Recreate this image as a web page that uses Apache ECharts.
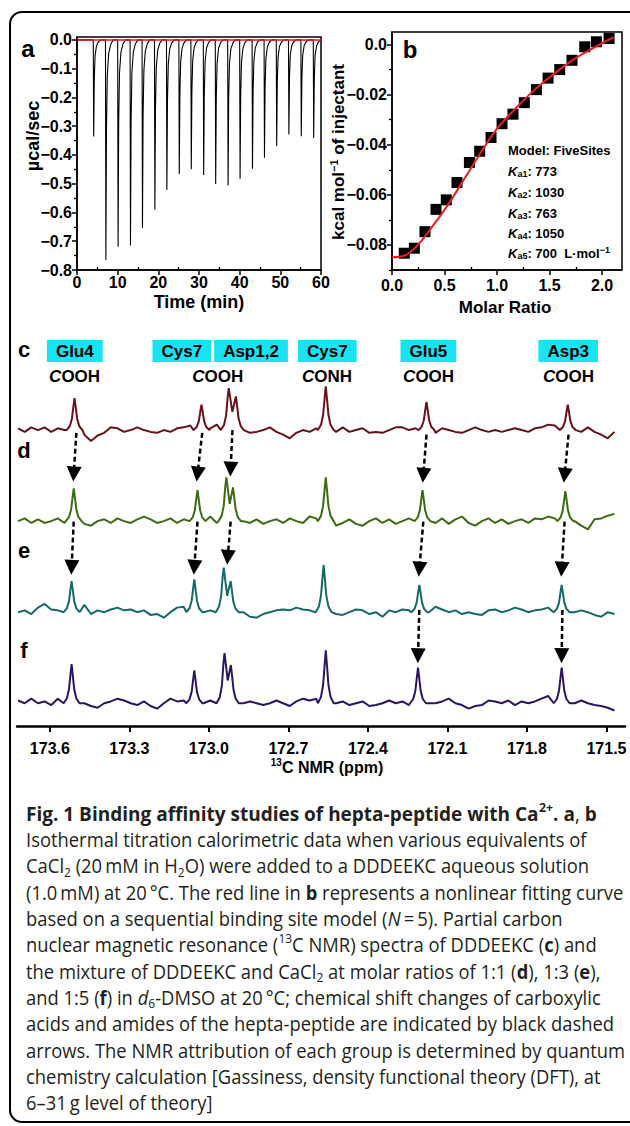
<!DOCTYPE html>
<html>
<head>
<meta charset="utf-8">
<title>Fig. 1 Binding affinity studies of hepta-peptide with Ca2+</title>
<script src="https://cdn.jsdelivr.net/npm/echarts@6.0.0/dist/echarts.min.js"></script>
<style>
html,body{margin:0;padding:0;background:#fff;}
#chart{width:630px;height:1126px;}
</style>
</head>
<body>
<div id="chart"></div>
<script>
// ================= DATA =================
// (a) ITC raw thermogram: injection times (min) and peak minima (µcal/sec)
const itcInjectionTime = [4.1, 7.1, 10.1, 13.15, 16.1, 19.15, 22.1, 25.15, 28.1, 31.15, 34.1, 37.15, 40.1, 43.15, 46.1, 49.1, 52.1, 55.15, 58.2];
const itcPeakDepth = [-0.336, -0.765, -0.719, -0.715, -0.654, -0.590, -0.522, -0.466, -0.450, -0.470, -0.501, -0.506, -0.483, -0.448, -0.410, -0.369, -0.329, -0.335, -0.341];
// shape of one injection spike (time offset from tip, fraction of depth)
const itcSpikeOffset = [-0.1, 0, 0.15, 0.35, 0.7, 1.2, 1.8];
const itcSpikeFraction = [0, 1, 0.4, 0.16, 0.06, 0.02, 0];
const itcBaseline = 0;
const timeTicks = [0, 10, 20, 30, 40, 50, 60];
const timeMinorTicks = [5, 15, 25, 35, 45, 55];
const ucalTicks = [0, -0.1, -0.2, -0.3, -0.4, -0.5, -0.6, -0.7, -0.8];
const ucalMinorTicks = [-0.05, -0.15, -0.25, -0.35, -0.45, -0.55, -0.65, -0.75];

// (b) integrated heats and fitted curve
const molarRatio = [0.117, 0.213, 0.314, 0.419, 0.517, 0.619, 0.737, 0.835, 0.943, 1.048, 1.152, 1.26, 1.375, 1.486, 1.597, 1.714, 1.835, 1.946, 2.067];
const heatPerMol = [-0.0833, -0.0813, -0.0747, -0.0658, -0.0620, -0.0551, -0.0471, -0.0426, -0.0371, -0.0316, -0.0278, -0.0232, -0.0180, -0.0134, -0.0100, -0.0063, -0.0009, 0.0011, 0.0024];
const fitRatio = [0, 0.12, 0.238, 0.365, 0.524, 0.683, 0.841, 1.0, 1.159, 1.349, 1.54, 1.73, 1.92, 2.11];
const fitHeat = [-0.0849, -0.0842, -0.0803, -0.0737, -0.0645, -0.054, -0.0434, -0.0336, -0.0263, -0.0184, -0.0118, -0.0059, -0.0013, 0.0029];
const ratioTicks = [0, 0.5, 1, 1.5, 2];
const ratioMinorTicks = [0.25, 0.75, 1.25, 1.75];
const heatTicks = [0, -0.02, -0.04, -0.06, -0.08];
const heatMinorTicks = [-0.01, -0.03, -0.05, -0.07, -0.09];
const fitModel = 'FiveSites';
const fitKaNames = ['a1', 'a2', 'a3', 'a4', 'a5'];
const fitKaValues = ['773', '1030', '763', '1050', '700'];

// (c-f) 13C NMR spectra (ppm, intensity a.u.)
const spectrumNames = ['c', 'd', 'e', 'f'];
const spectrumOffset = [300, 200, 100, 0];
const groupLabels = ['Glu4', 'Cys7', 'Asp1,2', 'Cys7', 'Glu5', 'Asp3'];
const groupTypes = ['COOH', 'COOH', 'CONH', 'COOH', 'COOH'];
// peaks: Glu4, Cys7 COOH, Asp1, Asp2, Cys7 CONH, Glu5, Asp3
const peakPpmC = [173.507, 173.028, 172.925, 172.898, 172.559, 172.179, 171.646];
const peakHeightC = [35, 28, 46, 37, 48, 31, 28];
const peakPpmD = [173.510, 173.043, 172.934, 172.909, 172.559, 172.194, 171.655];
const peakHeightD = [36, 34, 48, 37, 48, 34, 33];
const peakPpmE = [173.518, 173.055, 172.944, 172.918, 172.567, 172.206, 171.669];
const peakHeightE = [34, 36, 49, 34, 52, 30, 30];
const peakPpmF = [173.518, 173.055, 172.941, 172.917, 172.559, 172.211, 171.669];
const peakHeightF = [43, 36, 55, 42, 58, 39, 39];
const doubletDip = [20, 19, 18, 25];
// baseline noise sampled every 0.025 ppm from 173.72 ppm
const noiseStartPpm = 173.72;
const noiseStepPpm = 0.025;
const noiseC = [2,-2,3,0,3,-2,2,0,0,0, -5,-12,-6,-3,3,2,-2,0,3,0, -2,-3,0,-2,2,3,5,0,0,2, 6,0,0,0,0,-3,-2,0,3,-2, -5,-9,-3,0,-2,2,0,0,-2,3, -2,0,2,-3,-2,-3,0,3,3,0, 2,0,0,-3,2,0,-2,-3,0,3, 0,-2,0,-2,0,2,0,-2,2,3, 6,5,0,0,0,-2,3,-2,-5,-9, -2];
const noiseD = [0,3,-2,2,-2,0,3,-2,0,0, -3,-5,0,2,-2,3,0,-2,2,5, 2,-2,0,3,-2,2,3,0,0,5, -2,0,0,0,0,-2,2,-3,0,2, -2,3,0,-2,5,3,0,0,-5,-2, 2,-3,-5,0,3,-2,2,-3,0,3, 0,0,0,-2,3,-3,2,5,-2,-5, 0,3,-2,2,-3,0,2,-2,3,2, 5,3,0,0,0,-5,-9,2,3,6, 8];
const noiseE = [0,2,-2,5,9,3,2,5,0,0, 8,-2,2,0,3,5,2,3,0,2, -3,-2,-6,0,5,6,3,0,0,2, 5,0,0,0,0,-5,-6,-2,0,2, 3,2,5,3,2,0,0,0,-2,-3, 0,3,2,-2,0,-5,2,0,3,2, 0,0,0,6,3,0,2,-2,0,-2, -3,2,3,0,2,5,3,0,2,3, 5,3,0,0,0,2,0,-3,-5,0, -2];
const noiseF = [3,0,5,0,2,-2,5,3,0,0, 0,-3,-5,0,2,5,3,0,-2,2, -3,-6,0,5,2,3,6,0,0,3, 5,0,0,0,0,2,0,-2,0,3, 0,-3,2,5,3,5,0,0,0,2, -2,0,2,-3,-2,0,3,0,2,-2, -3,0,0,0,2,5,0,-2,-6,-3, -2,3,2,0,3,-2,2,0,2,5, 8,5,0,0,0,3,0,-2,-3,-5, -8];
// peak line shape (ppm offset, fraction of height)
const peakShapeDelta = [0.03, 0.018, 0.01, 0.004, 0, -0.004, -0.01, -0.018, -0.03];
const peakShapeFrac = [0, 0.12, 0.35, 0.75, 1, 0.75, 0.35, 0.12, 0];
const nmrTicks = [173.6, 173.3, 173.0, 172.7, 172.4, 172.1, 171.8, 171.5];
// dashed arrows: start (ppm, level) -> tip (ppm, level)
const arrowFromPpm = [173.500, 173.025, 172.911, 172.179, 171.643, 173.510, 173.043, 172.918, 172.191, 171.658, 172.206, 171.666];
const arrowFromLevel = [297, 297, 300, 295, 295, 199.5, 199.5, 199.5, 199.5, 199.5, 102.5, 102.5];
const arrowTipPpm = [173.510, 173.043, 172.918, 172.191, 171.658, 173.518, 173.055, 172.929, 172.206, 171.669, 172.211, 171.669];
const arrowTipLevel = [243.5, 243.5, 249, 242, 242, 141, 141, 152, 139, 139, 44, 44];

// ================= BUILD =================
const FONT = '"Liberation Sans", Arial, sans-serif';
const CAP = '"Open Sans", "Noto Sans", sans-serif';

const itcTrace = [[timeTicks[0], itcBaseline]];
itcInjectionTime.forEach((t, k) => {
  itcSpikeOffset.forEach((o, j) => itcTrace.push([t + o, itcBaseline + itcPeakDepth[k] * itcSpikeFraction[j]]));
});
itcTrace.push([timeTicks[timeTicks.length - 1], itcBaseline]);
const itcBaseLine = [[timeTicks[0], itcBaseline], [timeTicks[timeTicks.length - 1], itcBaseline]];

const heatPoints = molarRatio.map((x, i) => [x, heatPerMol[i]]);
const fitPoints = fitRatio.map((x, i) => [x, fitHeat[i]]);

function buildSpectrum(noise, ppm, h, dip, offset) {
  const singles = [0, 1, 4, 5, 6];
  const a = ppm[2], b = ppm[3];
  const pts = [];
  noise.forEach((n, i) => {
    const p = +(noiseStartPpm - noiseStepPpm * i).toFixed(3);
    if (singles.some(k => Math.abs(p - ppm[k]) < 0.03)) return;
    if (p < a + 0.03 && p > b - 0.03) return;
    pts.push([p, offset + n]);
  });
  singles.forEach(k => {
    peakShapeDelta.forEach((d, j) => pts.push([ppm[k] + d, offset + peakShapeFrac[j] * h[k]]));
  });
  [[0.03, 0], [0.018, 0.12], [0.01, 0.35], [0.004, 0.8], [0, 1]].forEach(([d, f]) => pts.push([a + d, offset + f * h[2]]));
  pts.push([(a + b) / 2, offset + dip]);
  [[0, 1], [-0.004, 0.75], [-0.01, 0.35], [-0.018, 0.12], [-0.03, 0]].forEach(([d, f]) => pts.push([b + d, offset + f * h[3]]));
  pts.sort((u, v) => v[0] - u[0]);
  return pts;
}
const spectra = [
  buildSpectrum(noiseC, peakPpmC, peakHeightC, doubletDip[0], spectrumOffset[0]),
  buildSpectrum(noiseD, peakPpmD, peakHeightD, doubletDip[1], spectrumOffset[1]),
  buildSpectrum(noiseE, peakPpmE, peakHeightE, doubletDip[2], spectrumOffset[2]),
  buildSpectrum(noiseF, peakPpmF, peakHeightF, doubletDip[3], spectrumOffset[3])
];
const spectrumColors = ['#6a1118', '#3e6a12', '#176969', '#2c1563'];

// NMR grid geometry
const NMR_MIN_Y = -25, NMR_MAX_Y = 355, NMR_H = 346;
const pxPerAu = NMR_H / (NMR_MAX_Y - NMR_MIN_Y);
const HEAD = 15;
const arrowData = arrowFromPpm.map((p, i) => ({
  coords: [[p, arrowFromLevel[i]], [arrowTipPpm[i], arrowTipLevel[i] + (HEAD / 2) / pxPerAu]]
}));

// ================= CAPTION SCALING =================
const mctx = document.createElement('canvas').getContext('2d');
function measure(text, font) { mctx.font = font; return mctx.measureText(text).width; }
const regScale = 560.7 / measure('Isothermal titration calorimetric data when various equivalents of', '20px ' + CAP);
const boldScale = 579 / measure('Fig. 1 Binding affinity studies of hepta-peptide with Ca2+. a, b', 'bold 20px ' + CAP);

const captionLines = [
  '{b|Fig. 1 Binding affinity studies of hepta-peptide with Ca}{bsup|2+}{b|. a}, {b|b}',
  'Isothermal titration calorimetric data when various equivalents of',
  'CaCl{sub|2} (20\u2009mM in H{sub|2}O) were added to a DDDEEKC aqueous solution',
  '(1.0\u2009mM) at 20\u2009°C. The red line in {b|b} represents a nonlinear fitting curve',
  'based on a sequential binding site model ({i|N}\u2009=\u20095). Partial carbon',
  'nuclear magnetic resonance ({sup|13}C NMR) spectra of DDDEEKC ({b|c}) and',
  'the mixture of DDDEEKC and CaCl{sub|2} at molar ratios of 1:1 ({b|d}), 1:3 ({b|e}),',
  'and 1:5 ({b|f}) in {i|d}{sub|6}-DMSO at 20\u2009°C; chemical shift changes of carboxylic',
  'acids and amides of the hepta-peptide are indicated by black dashed',
  'arrows. The NMR attribution of each group is determined by quantum',
  'chemistry calculation [Gassiness, density functional theory (DFT), at',
  '6\u201331\u2009g level of theory]'
];
const capRich = {
  b: { font: 'bold 20px ' + CAP, lineHeight: 26 },
  i: { font: 'italic 20px ' + CAP, lineHeight: 26 },
  sub: { font: '13px ' + CAP, lineHeight: 12, verticalAlign: 'bottom' },
  sup: { font: '13px ' + CAP, lineHeight: 12, verticalAlign: 'top' },
  bsup: { font: 'bold 13px ' + CAP, lineHeight: 12, verticalAlign: 'top' }
};

function txt(x, y, text, font, opts) {
  opts = opts || {};
  const align = opts.align || 'center';
  const valign = opts.valign || 'middle';
  return {
    type: 'text', x: x, y: y,
    rotation: opts.rotation || 0,
    scaleX: opts.scaleX || 1,
    silent: true,
    style: Object.assign({
      text: text, font: font, fill: opts.fill || '#000',
      textAlign: align, textVerticalAlign: valign, align: align, verticalAlign: valign,
      lineHeight: opts.lineHeight || undefined,
      rich: opts.rich || undefined
    }, opts.extra || {})
  };
}

const graphics = [];
// outer rounded frame
graphics.push({ type: 'rect', silent: true, shape: { x: 10, y: 12, width: 700, height: 1110, r: 12 }, style: { fill: 'none', stroke: '#000', lineWidth: 2 } });
// panel letters
graphics.push(txt(28, 48, 'a', 'bold 24px ' + FONT));
graphics.push(txt(410, 49, 'b', 'bold 24px ' + FONT));
// axis titles
graphics.push(txt(33, 136, '\u00b5cal/sec', 'bold 18px ' + FONT, { rotation: Math.PI / 2 }));
graphics.push(txt(199, 302, 'Time (min)', 'bold 18px ' + FONT));
graphics.push(txt(338, 152, 'kcal mol{p|\u22121} of injectant', 'bold 17px ' + FONT, {
  rotation: Math.PI / 2, lineHeight: 20,
  rich: { p: { font: 'bold 11px ' + FONT, lineHeight: 11, verticalAlign: 'top' } }
}));
graphics.push(txt(505, 307, 'Molar Ratio', 'bold 17px ' + FONT));
graphics.push(txt(327, 767, '{p|13}C NMR (ppm)', 'bold 16px ' + FONT, {
  lineHeight: 20, rich: { p: { font: 'bold 10px ' + FONT, lineHeight: 10, verticalAlign: 'top' } }
}));
// fit results in (b)
const fitY = [150, 171, 192, 213, 233, 253];
graphics.push(txt(508, fitY[0], 'Model: ' + fitModel, 'bold 13px ' + FONT, { align: 'left' }));
fitKaNames.forEach((n, k) => {
  const unit = k === fitKaNames.length - 1 ? '  L\u00b7mol{p|\u22121}' : '';
  graphics.push(txt(508, fitY[k + 1], '{k|K}{s|' + n + '}: ' + fitKaValues[k] + unit, 'bold 13px ' + FONT, {
    align: 'left', lineHeight: 15,
    rich: {
      k: { font: 'italic bold 13px ' + FONT, lineHeight: 15 },
      s: { font: 'bold 9px ' + FONT, lineHeight: 11, verticalAlign: 'bottom' },
      p: { font: 'bold 9px ' + FONT, lineHeight: 9, verticalAlign: 'top' }
    }
  }));
});
// spectrum letters
const letterY = [349, 450, 550, 650];
spectrumNames.forEach((s, i) => graphics.push(txt(24, letterY[i], s, 'bold 22px ' + FONT)));
// group labels (cyan boxes)
const groupX = [74.8, 181.8, 251, 327.3, 428.4, 568.2];
groupLabels.forEach((g, i) => graphics.push(txt(groupX[i], 351, g, 'bold 17px ' + FONT, {
  lineHeight: 18, extra: { backgroundColor: '#17e3f3', padding: [2, 9] }
})));
const typeX = [74.6, 217.7, 327, 428.6, 568.5];
groupTypes.forEach((t, i) => graphics.push(txt(typeX[i], 376, '{c|C}' + t.slice(1), 'bold 17px ' + FONT, {
  rich: { c: { font: 'italic bold 17px ' + FONT } }
})));
// caption
captionLines.forEach((line, i) => {
  graphics.push(txt(26, 813 + 26.3 * i, line, '20px ' + CAP, {
    align: 'left', fill: '#231f20', lineHeight: 26, rich: capRich,
    scaleX: i === 0 ? boldScale : regScale
  }));
});

// ================= OPTION =================
const axisLabelStyle = { color: '#000', fontFamily: FONT, fontWeight: 'bold', fontSize: 16 };
function minorAxis(base) {
  return Object.assign({
    type: 'value', axisLine: { show: false, onZero: false }, axisLabel: { show: false }, splitLine: { show: false }
  }, base);
}
const option = {
  animation: false,
  backgroundColor: '#fff',
  grid: [
    { left: 77, top: 37, width: 244, height: 233, show: true, borderColor: '#000', borderWidth: 1.5, backgroundColor: 'transparent' },
    { left: 392, top: 32, width: 230, height: 238, show: true, borderColor: '#000', borderWidth: 1.5, backgroundColor: 'transparent' },
    { left: 17, top: 380, width: 608, height: NMR_H }
  ],
  xAxis: [
    { gridIndex: 0, type: 'value', min: 0, max: 60, position: 'bottom',
      axisLine: { onZero: false, lineStyle: { color: '#000', width: 1.5 } },
      axisTick: { customValues: timeTicks, length: 5, lineStyle: { color: '#000', width: 1.5 } },
      axisLabel: Object.assign({ customValues: timeTicks, margin: 4 }, axisLabelStyle),
      splitLine: { show: false } },
    minorAxis({ gridIndex: 0, min: 0, max: 60, position: 'bottom',
      axisTick: { customValues: timeMinorTicks, length: 3, inside: true, lineStyle: { color: '#000', width: 1.3 } } }),
    { gridIndex: 1, type: 'value', min: 0, max: 2.19, position: 'bottom',
      axisLine: { onZero: false, lineStyle: { color: '#000', width: 1.5 } },
      axisTick: { customValues: ratioTicks, length: 5, lineStyle: { color: '#000', width: 1.5 } },
      axisLabel: Object.assign({ customValues: ratioTicks, margin: 7, formatter: v => v.toFixed(1) }, axisLabelStyle),
      splitLine: { show: false } },
    minorAxis({ gridIndex: 1, min: 0, max: 2.19, position: 'bottom',
      axisTick: { customValues: ratioMinorTicks, length: 3, inside: true, lineStyle: { color: '#000', width: 1.3 } } }),
    { gridIndex: 2, type: 'value', min: 171.43, max: 173.724, inverse: true, position: 'bottom',
      axisLine: { onZero: false, lineStyle: { color: '#000', width: 2.5 } },
      axisTick: { customValues: nmrTicks, length: 6, lineStyle: { color: '#000', width: 2 } },
      axisLabel: Object.assign({ customValues: nmrTicks, margin: 14, formatter: v => v.toFixed(1) }, axisLabelStyle),
      splitLine: { show: false } }
  ],
  yAxis: [
    { gridIndex: 0, type: 'value', min: -0.8, max: 0.01, position: 'left',
      axisLine: { onZero: false, lineStyle: { color: '#000', width: 1.5 } },
      axisTick: { customValues: ucalTicks, length: 5, lineStyle: { color: '#000', width: 1.5 } },
      axisLabel: Object.assign({ customValues: ucalTicks, margin: 5,
        formatter: v => Math.abs(v) < 1e-9 ? '0.0' : '\u2212' + Math.abs(v).toFixed(1) }, axisLabelStyle),
      splitLine: { show: false } },
    minorAxis({ gridIndex: 0, min: -0.8, max: 0.01, position: 'left',
      axisTick: { customValues: ucalMinorTicks, length: 3, lineStyle: { color: '#000', width: 1.3 } } }),
    { gridIndex: 1, type: 'value', min: -0.09, max: 0.005, position: 'left',
      axisLine: { onZero: false, lineStyle: { color: '#000', width: 1.5 } },
      axisTick: { customValues: heatTicks, length: 5, lineStyle: { color: '#000', width: 1.5 } },
      axisLabel: Object.assign({ customValues: heatTicks, margin: 5,
        formatter: v => Math.abs(v) < 1e-9 ? '0.0' : '\u2212' + Math.abs(v).toFixed(2) }, axisLabelStyle),
      splitLine: { show: false } },
    minorAxis({ gridIndex: 1, min: -0.09, max: 0.005, position: 'left',
      axisTick: { customValues: heatMinorTicks, length: 3, lineStyle: { color: '#000', width: 1.3 } } }),
    { gridIndex: 2, type: 'value', min: NMR_MIN_Y, max: NMR_MAX_Y, show: false, splitLine: { show: false } }
  ],
  series: [
    { name: 'ITC', type: 'line', xAxisIndex: 0, yAxisIndex: 0, data: itcTrace, symbol: 'none',
      lineStyle: { color: '#000', width: 1.1 }, z: 2 },
    { name: 'ITC baseline', type: 'line', xAxisIndex: 0, yAxisIndex: 0, data: itcBaseLine, symbol: 'none',
      lineStyle: { color: '#e8141b', width: 1.5 }, z: 3 },
    { name: 'Heat', type: 'scatter', xAxisIndex: 2, yAxisIndex: 2, data: heatPoints, symbol: 'rect', symbolSize: 11,
      itemStyle: { color: '#000', opacity: 1 }, z: 2 },
    { name: 'Fit', type: 'line', xAxisIndex: 2, yAxisIndex: 2, data: fitPoints, symbol: 'none', smooth: 0.4,
      lineStyle: { color: '#ee1c25', width: 2 }, z: 3 }
  ].concat(spectra.map((d, i) => ({
    name: 'NMR ' + spectrumNames[i], type: 'line', xAxisIndex: 4, yAxisIndex: 4, data: d, symbol: 'none',
    lineStyle: { color: spectrumColors[i], width: 2 }, z: 2
  }))).concat([
    { name: 'Shift arrows', type: 'lines', coordinateSystem: 'cartesian2d', xAxisIndex: 4, yAxisIndex: 4,
      data: arrowData, symbol: ['none', 'triangle'], symbolSize: HEAD,
      lineStyle: { color: '#000', width: 2.5, type: [5, 3], opacity: 1, curveness: 0 },
      itemStyle: { color: '#000' }, z: 5, silent: true }
  ]),
  graphic: { elements: graphics }
};

const chart = echarts.init(document.getElementById('chart'), null, { renderer: 'svg', width: 630, height: 1126 });
chart.setOption(option);
</script>
</body>
</html>
